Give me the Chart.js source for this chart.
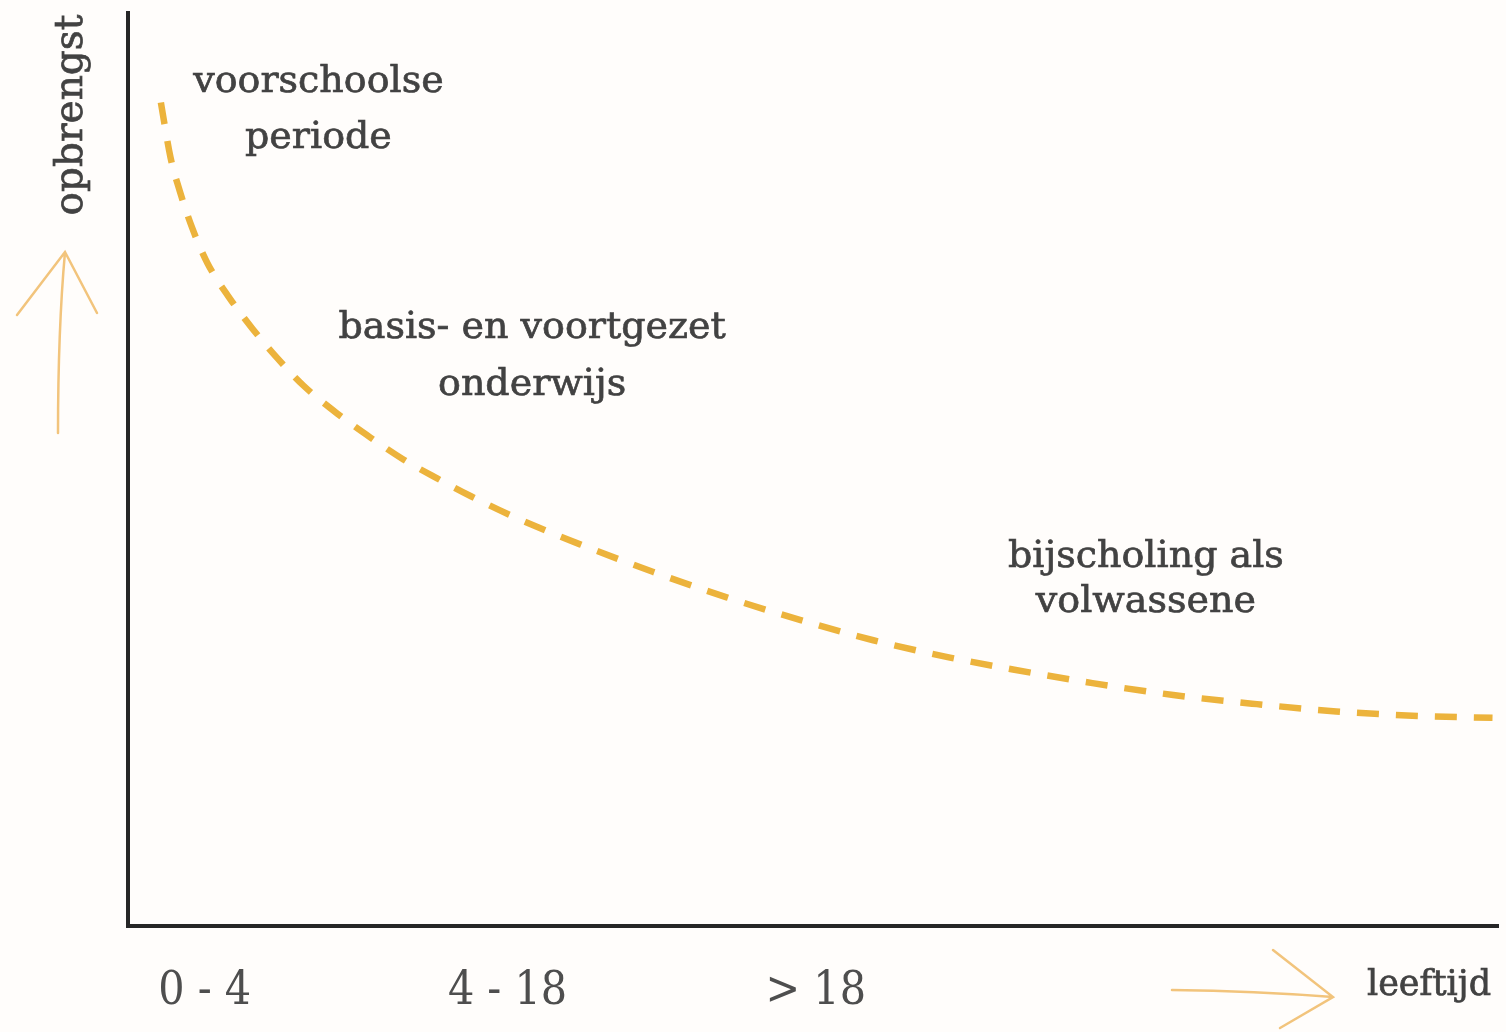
<!DOCTYPE html>
<html>
<head>
<meta charset="utf-8">
<title>opbrengst per leeftijd</title>
<script src="https://cdn.jsdelivr.net/npm/chart.js@4.4.1/dist/chart.umd.min.js"></script>
<style>
  html, body { margin: 0; padding: 0; background: #fffdfb; }
  canvas { display: block; }
</style>
</head>
<body>
<canvas id="myChart" width="1506" height="1032"></canvas>
<script>
// curve (x: 0..100 along the age axis, y: 0..100 yield)
const curveX = [2.4, 3.1, 3.8, 4.7, 5.8, 7.4, 9.1, 10.9, 12.8, 15.3, 17.7, 20.1, 22.6, 25.0, 27.9,
                33.0, 38.3, 43.7, 49.1, 54.4, 60.0, 64.6, 70.4, 76.3, 82.4, 88.2, 94.3, 99.6];
const curveY = [90.2, 84.2, 80.4, 76.4, 72.6, 68.8, 65.4, 62.2, 59.2, 56.1, 53.5, 51.1, 49.0, 47.1, 45.0,
                41.8, 38.8, 36.0, 33.5, 31.3, 29.4, 28.1, 26.6, 25.3, 24.3, 23.5, 23.0, 22.8];

// age groups on the x axis
const tickValues = [5.6, 27.7, 50.2];
const tickLabels = ['0 - 4', '4 - 18', '> 18'];

const xTitle = 'leeftijd';
const yTitle = 'opbrengst';

// text notes next to the curve
const noteLines = [['voorschoolse', 'periode'], ['basis- en voortgezet', 'onderwijs'], ['bijscholing als', 'volwassene']];
const noteX = [13.9, 29.5, 74.3];
const noteY = [[91.3, 85.2], [64.4, 58.2], [39.3, 34.4]];

const textColor = '#424242';
const arrowColor = '#f2c47c';
const serif = '"DejaVu Serif", "Liberation Serif", serif';

function arrow(ctx, pts, head1, head2) {
  ctx.beginPath();
  ctx.moveTo(pts[0][0], pts[0][1]);
  ctx.quadraticCurveTo(pts[1][0], pts[1][1], pts[2][0], pts[2][1]);
  ctx.moveTo(head1[0], head1[1]);
  ctx.lineTo(pts[2][0], pts[2][1]);
  ctx.lineTo(head2[0], head2[1]);
  ctx.stroke();
}

function label(ctx, text, x, y) {
  ctx.fillText(text, x, y);
  ctx.strokeText(text, x, y);
}

const decor = {
  id: 'decor',
  beforeDraw(chart) {
    const ctx = chart.ctx;
    ctx.save();
    ctx.fillStyle = '#fffdfb';
    ctx.fillRect(0, 0, chart.width, chart.height);
    ctx.restore();
  },
  afterDraw(chart) {
    const ctx = chart.ctx;
    const xs = chart.scales.x, ys = chart.scales.y;
    ctx.save();
    ctx.fillStyle = textColor;
    ctx.strokeStyle = textColor;
    ctx.lineWidth = 0.7;
    ctx.textAlign = 'center';
    ctx.textBaseline = 'alphabetic';
    ctx.font = '38px ' + serif;
    for (let i = 0; i < noteLines.length; i++) {
      for (let j = 0; j < noteLines[i].length; j++) {
        label(ctx, noteLines[i][j], xs.getPixelForValue(noteX[i]), ys.getPixelForValue(noteY[i][j]));
      }
    }

    // axis titles
    ctx.font = '35px ' + serif;
    label(ctx, xTitle, 1429, 995);
    ctx.save();
    ctx.translate(82, 115);
    ctx.rotate(-Math.PI / 2);
    ctx.font = '39px ' + serif;
    label(ctx, yTitle, 0, 0);
    ctx.restore();

    // hand drawn arrows
    ctx.strokeStyle = arrowColor;
    ctx.lineWidth = 2.5;
    ctx.lineCap = 'round';
    arrow(ctx, [[58, 433], [58, 330], [65, 252]], [17, 315], [97, 313]);
    arrow(ctx, [[1172, 990], [1255, 991], [1333, 997]], [1273, 950], [1280, 1028]);
    ctx.restore();
  }
};

const points = curveX.map((x, i) => ({ x: x, y: curveY[i] }));

new Chart(document.getElementById('myChart'), {
  type: 'line',
  data: {
    datasets: [{
      data: points,
      borderColor: '#ecb33c',
      borderWidth: 6.5,
      borderDash: [22, 17],
      pointRadius: 0,
      cubicInterpolationMode: 'monotone',
      fill: false
    }]
  },
  options: {
    responsive: false,
    animation: false,
    layout: { padding: { left: 128, top: 13, right: 8, bottom: 0 } },
    plugins: { legend: { display: false }, tooltip: { enabled: false } },
    scales: {
      x: {
        type: 'linear',
        min: 0,
        max: 100,
        grid: { display: false },
        border: { display: true, color: '#262626', width: 4 },
        afterBuildTicks: axis => { axis.ticks = tickValues.map(v => ({ value: v })); },
        afterFit: axis => { axis.height = 106; },
        ticks: {
          autoSkip: false,
          maxRotation: 0,
          padding: 30,
          color: '#4e4e4e',
          font: { family: '"DejaVu Serif Condensed", "DejaVu Serif", serif', size: 46 },
          callback: (value, index) => tickLabels[index]
        }
      },
      y: {
        type: 'linear',
        min: 0,
        max: 100,
        grid: { display: false },
        border: { display: true, color: '#262626', width: 4 },
        afterFit: axis => { axis.width = 0; },
        ticks: { display: false }
      }
    }
  },
  plugins: [decor]
});
</script>
</body>
</html>
